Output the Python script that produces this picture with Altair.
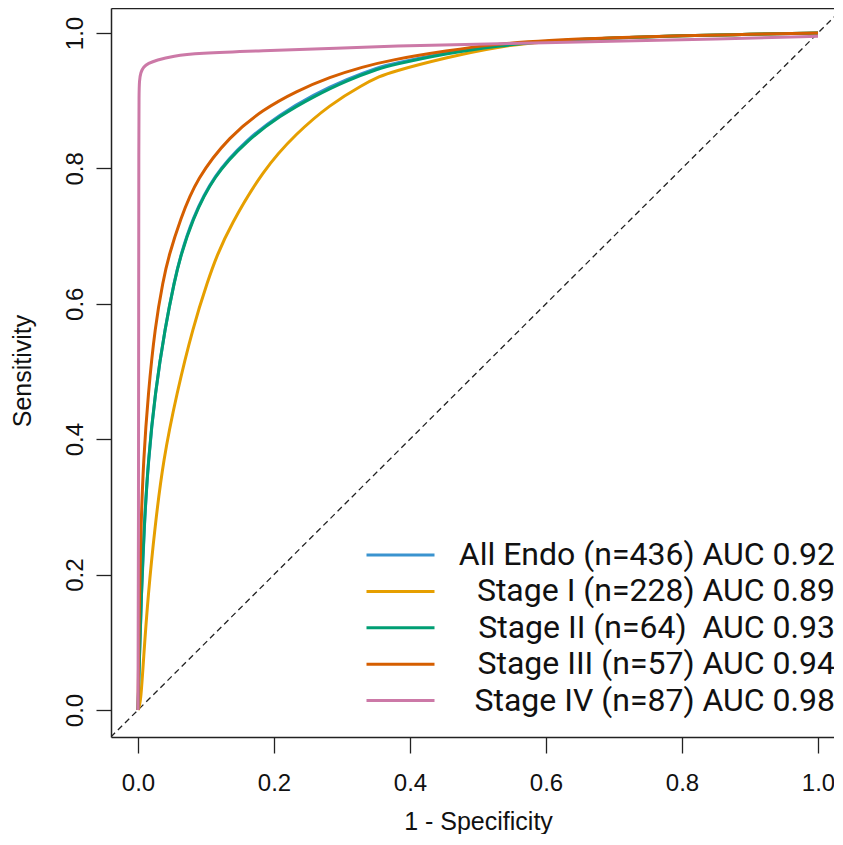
import altair as alt
import pandas as pd

series = [
    "All Endo (n=436) AUC 0.92",
    "Stage I (n=228) AUC 0.89",
    "Stage II (n=64)\u00a0 AUC 0.93",
    "Stage III (n=57) AUC 0.94",
    "Stage IV (n=87) AUC 0.98",
]
colors = ["#3A93CF", "#E69F00", "#009E73", "#D55E00", "#CC79A7"]

# 1 - specificity (x) and sensitivity (y)
all_x = [0, 0.002, 0.005, 0.009, 0.015, 0.025, 0.040, 0.054, 0.062, 0.079, 0.111, 0.160, 0.209, 0.258, 0.307, 0.356, 0.371, 0.454, 0.53, 0.6, 0.7, 0.8, 0.9, 1.0]
all_y = [0, 0.072, 0.170, 0.268, 0.367, 0.467, 0.566, 0.636, 0.669, 0.724, 0.790, 0.843, 0.880, 0.909, 0.932, 0.950, 0.954, 0.971, 0.982, 0.988, 0.993, 0.996, 0.998, 1.0]

s1_x = [0, 0.004, 0.008, 0.015, 0.025, 0.037, 0.057, 0.081, 0.103, 0.116, 0.135, 0.184, 0.233, 0.282, 0.331, 0.356, 0.371, 0.454, 0.53, 0.6, 0.7, 0.8, 0.9, 1.0]
s1_y = [0, 0.010, 0.074, 0.172, 0.271, 0.369, 0.468, 0.566, 0.635, 0.671, 0.714, 0.798, 0.852, 0.894, 0.924, 0.936, 0.942, 0.964, 0.980, 0.988, 0.993, 0.996, 0.998, 1.0]

s2_x = [0, 0.002, 0.005, 0.009, 0.015, 0.025, 0.040, 0.054, 0.062, 0.079, 0.111, 0.160, 0.209, 0.258, 0.307, 0.356, 0.371, 0.454, 0.53, 0.6, 0.7, 0.8, 0.9, 1.0]
s2_y = [0, 0.074, 0.172, 0.271, 0.369, 0.468, 0.566, 0.635, 0.668, 0.722, 0.789, 0.841, 0.878, 0.906, 0.930, 0.948, 0.952, 0.970, 0.981, 0.988, 0.993, 0.996, 0.998, 1.0]

s3_x = [0, 0.0006, 0.0015, 0.003, 0.0044, 0.008, 0.015, 0.025, 0.037, 0.045, 0.062, 0.086, 0.135, 0.184, 0.233, 0.282, 0.331, 0.371, 0.454, 0.53, 0.6, 0.7, 0.8, 0.9, 1.0]
s3_y = [0, 0.05, 0.12, 0.20, 0.271, 0.369, 0.468, 0.566, 0.635, 0.670, 0.724, 0.785, 0.848, 0.887, 0.914, 0.935, 0.950, 0.960, 0.974, 0.984, 0.989, 0.993, 0.996, 0.998, 1.0]

s4_x = [0, 0.0008, 0.0010, 0.0012, 0.0015, 0.002, 0.004, 0.008, 0.015, 0.027, 0.052, 0.086, 0.184, 0.282, 0.371, 0.528, 0.7, 0.85, 1.0]
s4_y = [0, 0.30, 0.60, 0.85, 0.910, 0.930, 0.942, 0.950, 0.955, 0.960, 0.966, 0.970, 0.974, 0.977, 0.981, 0.984, 0.988, 0.991, 0.995]

curves = [(all_x, all_y), (s1_x, s1_y), (s2_x, s2_y), (s3_x, s3_y), (s4_x, s4_y)]

rows = []
for order, (name, (xs, ys)) in enumerate(zip(series, curves)):
    for i, (xv, yv) in enumerate(zip(xs, ys)):
        rows.append({"series": name, "fpr": xv, "tpr": yv, "k": order * 1000 + i})
df = pd.DataFrame(rows)

diag_vals = [-0.04, 1.04]
diag_df = pd.DataFrame({"fpr": diag_vals, "tpr": diag_vals})

x_dom = [-0.0397, 1.0353]
y_dom = [-0.0399, 1.0369]
ticks = [0.0, 0.2, 0.4, 0.6, 0.8, 1.0]

FONT = "Liberation Sans"
FRAME = "#222"

x_axis = alt.Axis(
    orient="bottom", values=ticks, format=".1f", grid=False,
    domain=True, domainColor=FRAME, domainWidth=1.5,
    tickSize=16, tickColor=FRAME, tickWidth=1.3,
    labelFont=FONT, labelFontSize=24, labelColor="#111",
    labelBaseline="alphabetic", labelPadding=37.5,
    title="1 - Specificity", titleFont=FONT, titleFontSize=25,
    titleFontWeight="normal", titleColor="#111",
    titleX=367, titleY=92, titleBaseline="alphabetic", titleAlign="center",
)
x_top = alt.Axis(
    orient="top", values=ticks, grid=False, labels=False, ticks=False, title=None,
    domain=True, domainColor=FRAME, domainWidth=1.5,
)
y_axis = alt.Axis(
    orient="left", values=ticks, format=".1f", grid=False,
    domain=True, domainColor=FRAME, domainWidth=1.5,
    tickSize=15, tickColor=FRAME, tickWidth=1.3,
    labelFont=FONT, labelFontSize=24, labelColor="#111",
    labelAngle=270, labelAlign="center", labelBaseline="alphabetic", labelPadding=14,
    title="Sensitivity", titleFont=FONT, titleFontSize=25,
    titleFontWeight="normal", titleColor="#111", titleAngle=270,
    titleX=-80.5, titleY=362.5, titleBaseline="alphabetic", titleAlign="center",
)

x_scale = alt.Scale(domain=x_dom, nice=False, zero=False)
y_scale = alt.Scale(domain=y_dom, nice=False, zero=False)

diag = alt.Chart(diag_df).mark_line(
    color="#222", strokeWidth=1.3, strokeDash=[6, 4], clip=True
).encode(
    x=alt.X("fpr:Q", scale=x_scale, axis=x_top),
    y=alt.Y("tpr:Q", scale=y_scale, axis=y_axis),
)

lines = alt.Chart(df).mark_line(strokeWidth=3, interpolate="basis", clip=True).encode(
    x=alt.X("fpr:Q", scale=x_scale, axis=x_axis),
    y=alt.Y("tpr:Q", scale=y_scale, axis=y_axis),
    order=alt.Order("k:Q"),
    color=alt.Color(
        "series:N",
        scale=alt.Scale(domain=series, range=colors),
        legend=alt.Legend(
            orient="none", legendX=254, legendY=531, title=None, padding=0,
            symbolType="stroke", symbolSize=4624, symbolStrokeWidth=3,
            clipHeight=32, rowPadding=4.4,
            labelFont="Roboto", labelFontSize=32, labelColor="#111",
            labelAlign="right", labelBaseline="middle", labelOffset=399, labelLimit=600,
        ),
    ),
)

chart = (
    alt.layer(diag, lines)
    .properties(
        width=731, height=729,
        padding={"left": 103, "top": 0, "right": -8, "bottom": 97},
        autosize=alt.AutoSizeParams(type="none"),
        background="white",
    )
    .configure_view(stroke="transparent")
)

chart.save("out.html", embed_options={"renderer": "svg", "actions": False})
